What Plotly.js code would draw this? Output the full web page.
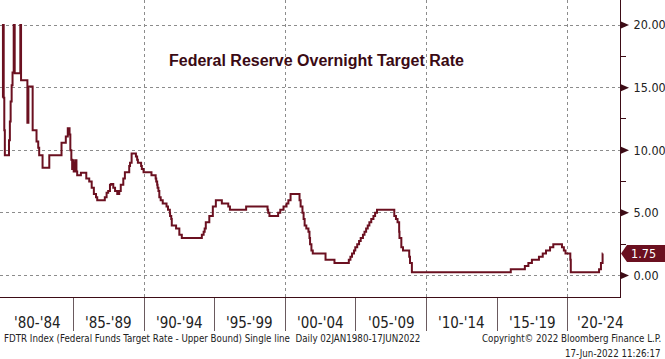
<!DOCTYPE html>
<html>
<head>
<meta charset="utf-8">
<script src="https://cdn.plot.ly/plotly-3.0.1.min.js"></script>
<style>
html,body{margin:0;padding:0;background:#fff;}
#chart{width:665px;height:359px;}
</style>
</head>
<body>
<div id="chart"></div>
<script>
// Federal Funds Target Rate (upper bound), step changes
var rateDates = [
'1980-01-02','1980-01-08','1980-01-28','1980-02-12','1980-02-26',
'1980-06-12','1980-07-05','1980-07-25','1980-08-20','1980-09-12',
'1980-10-12','1980-11-07',
'1981-04-01','1981-04-20',
'1981-10-01','1981-10-27',
'1982-02-14','1982-05-25','1982-07-08','1982-08-02','1982-10-28',
'1983-04-20','1984-03-01','1984-06-20','1984-08-10','1984-09-25','1984-10-15',
'1984-11-10','1984-12-01','1984-12-20','1985-01-10','1985-01-28','1985-02-15','1985-03-05','1985-03-22',
'1985-04-10','1985-07-15','1985-12-01','1986-02-15','1986-04-20','1986-06-15','1986-08-10','1986-09-10',
'1987-03-25','1987-05-10','1987-06-20','1987-08-05','1987-09-04','1987-10-30','1987-12-15',
'1988-02-10','1988-04-01','1988-05-10','1988-07-15','1988-08-25','1988-12-15',
'1989-01-05','1989-02-15','1989-06-06','1989-07-07','1989-07-27','1989-10-18','1989-11-06','1989-12-20',
'1990-07-13','1990-10-29','1990-11-13','1990-12-07','1990-12-18',
'1991-01-09','1991-02-01','1991-03-08','1991-04-30','1991-08-06','1991-09-13','1991-10-31','1991-11-06','1991-12-06','1991-12-20',
'1992-04-09','1992-07-02','1992-09-04',
'1994-02-04','1994-03-22','1994-04-18','1994-05-17','1994-08-16','1994-11-15',
'1995-02-01','1995-07-06','1995-12-19','1996-01-31','1997-03-25',
'1998-09-29','1998-10-15','1998-11-17','1999-06-30','1999-08-24','1999-11-16',
'2000-02-02','2000-03-21','2000-05-16',
'2001-01-03','2001-01-31','2001-03-20','2001-04-18','2001-05-15','2001-06-27','2001-08-21','2001-09-17','2001-10-02','2001-11-06','2001-12-11',
'2002-11-06','2003-06-25',
'2004-06-30','2004-08-10','2004-09-21','2004-11-10','2004-12-14',
'2005-02-02','2005-03-22','2005-05-03','2005-06-30','2005-08-09','2005-09-20','2005-11-01','2005-12-13',
'2006-01-31','2006-03-28','2006-05-10','2006-06-29',
'2007-09-18','2007-10-31','2007-12-11',
'2008-01-22','2008-01-30','2008-03-18','2008-04-30','2008-10-08','2008-10-29','2008-12-16',
'2015-12-16','2016-12-14','2017-03-15','2017-06-14','2017-12-13',
'2018-03-21','2018-06-13','2018-09-26','2018-12-19',
'2019-07-31','2019-09-18','2019-10-30',
'2020-03-03','2020-03-15',
'2022-03-16','2022-05-04','2022-06-15','2022-06-17'
];
var rateValues = [
14.2,20.0,14.2,11.6,9.6,
10.8,12.3,13.9,15.2,16.2,
20.0,16.15,
20.0,15.6,
12.2,15.1,
11.6,10.7,10.2,9.6,8.6,
9.6,10.6,11.1,11.75,11.25,10.0,
9.25,8.5,9.2,8.3,9.0,8.3,9.2,8.3,
8.0,8.2,7.75,7.5,7.0,6.5,6.25,6.0,
6.25,6.6,6.75,7.25,7.3,7.0,6.75,
6.5,6.75,7.25,7.75,8.25,8.75,
9.0,9.75,9.5,9.25,9.0,8.75,8.5,8.25,
8.0,7.75,7.5,7.25,7.0,
6.75,6.25,6.0,5.75,5.5,5.25,5.0,4.75,4.5,4.0,
3.75,3.25,3.0,
3.25,3.5,3.75,4.25,4.75,5.5,
6.0,5.75,5.5,5.25,5.5,
5.25,5.0,4.75,5.0,5.25,5.5,
5.75,6.0,6.5,
6.0,5.5,5.0,4.5,4.0,3.75,3.5,3.0,2.5,2.0,1.75,
1.25,1.0,
1.25,1.5,1.75,2.0,2.25,
2.5,2.75,3.0,3.25,3.5,3.75,4.0,4.25,
4.5,4.75,5.0,5.25,
4.75,4.5,4.25,
3.5,3.0,2.25,2.0,1.5,1.0,0.25,
0.5,0.75,1.0,1.25,1.5,
1.75,2.0,2.25,2.5,
2.25,2.0,1.75,
1.25,0.25,
0.5,1.0,1.75,1.75
];
var xRange = ['1979-10-24','2023-09-08'];
var gridDates = ['1990-01-01','2000-01-01','2010-01-01','2020-01-01'];
var sepDates = ['1985-01-01','1995-01-01','2005-01-01','2015-01-01'];
var periodMid = ['1982-07-02','1987-07-02','1992-07-02','1997-07-02','2002-07-02','2007-07-02','2012-07-02','2017-07-02','2022-04-15'];
var periodLabels = ["'80-'84","'85-'89","'90-'94","'95-'99","'00-'04","'05-'09","'10-'14","'15-'19","'20-'24"];
var yTicks = [0,5,10,15,20];
var yTickText = ['0.00','5.00','10.00','15.00','20.00'];
var yMinor = [2.5,7.5,12.5,17.5];
var chartTitle = 'Federal Reserve Overnight Target Rate';
var footLeft = 'FDTR Index (Federal Funds Target Rate - Upper Bound) Single line  Daily 02JAN1980-17JUN2022';
var footRight1 = 'Copyright\u00a9 2022 Bloomberg Finance L.P.';
var footRight2 = '17-Jun-2022 11:26:17';

var lineColor = '#6b1020';
var axisColor = '#3d0c16';
var narrow = '"DejaVu Sans Condensed", "DejaVu Sans", sans-serif';
var lastVal = rateValues[rateValues.length - 1];

var annotations = [];
annotations.push({text:'<b>'+chartTitle+'</b>', xref:'paper', yref:'paper', x:0.5105, y:0.7956,
  xanchor:'center', yanchor:'middle', showarrow:false,
  font:{family:'"Liberation Sans", Arial, sans-serif', size:16, color:'#3a0a14'}});
periodMid.forEach(function(d,i){
  annotations.push({text:periodLabels[i], xref:'x', yref:'paper', x:d, y:-0.088,
    xanchor:'center', yanchor:'middle', showarrow:false,
    font:{family:narrow, size:15, color:'#222'}});
});
annotations.push({text:footLeft, xref:'paper', yref:'paper', x:0, xshift:2, y:-0.1414,
  xanchor:'left', yanchor:'middle', showarrow:false, font:{family:narrow, size:9.7, color:'#222'}});
annotations.push({text:footRight1, xref:'paper', yref:'paper', x:1.0694, y:-0.1414,
  xanchor:'right', yanchor:'middle', showarrow:false, font:{family:narrow, size:9.7, color:'#222'}});
annotations.push({text:footRight2, xref:'paper', yref:'paper', x:1.0694, y:-0.1886,
  xanchor:'right', yanchor:'middle', showarrow:false, font:{family:narrow, size:9.7, color:'#222'}});
annotations.push({text:String(lastVal.toFixed(2)), xref:'paper', yref:'y', x:1, xshift:9, y:lastVal,
  xanchor:'left', yanchor:'middle', showarrow:false, font:{family:narrow, size:12.5, color:'#ffffff'}});

var shapes = [];
yTicks.forEach(function(v){
  shapes.push({type:'path', xref:'paper', yref:'y', xsizemode:'pixel', ysizemode:'pixel',
    xanchor:1, yanchor:v, path:'M1,-3.5 L9,0 L1,3.5 Z', fillcolor:axisColor, line:{width:0}});
});
shapes.push({type:'path', xref:'paper', yref:'y', xsizemode:'pixel', ysizemode:'pixel',
  xanchor:1, yanchor:lastVal, path:'M1,0 L7,-8.5 L46,-8.5 L46,8.5 L7,8.5 Z', fillcolor:lineColor, line:{width:0}});

var trace = {x:rateDates, y:rateValues, type:'scatter', mode:'lines',
  line:{color:lineColor, width:2, shape:'hv'}, hoverinfo:'skip', showlegend:false};

var layout = {
  width:665, height:359,
  margin:{l:0, r:45, t:0, b:62, pad:0},
  paper_bgcolor:'#ffffff', plot_bgcolor:'#ffffff',
  showlegend:false,
  xaxis:{type:'date', range:xRange, tickmode:'array', tickvals:gridDates, showticklabels:false,
    showgrid:true, gridcolor:'#8c8c8c', griddash:'dot', gridwidth:1,
    ticks:'outside', ticklen:33, tickwidth:1, tickcolor:'#6a5a5e',
    minor:{tickmode:'array', tickvals:sepDates, ticks:'outside', ticklen:33, tickwidth:1, tickcolor:'#6a5a5e', showgrid:false},
    showline:true, linecolor:axisColor, linewidth:1, zeroline:false, fixedrange:true},
  yaxis:{side:'right', range:[-1.72, 22.0], tickmode:'array', tickvals:yTicks, ticktext:yTickText,
    showgrid:true, gridcolor:'#8c8c8c', griddash:'dot', gridwidth:1,
    ticks:'', ticklabelstandoff:10,
    minor:{tickmode:'array', tickvals:yMinor, ticks:'outside', ticklen:5, tickwidth:1, tickcolor:axisColor, showgrid:false},
    tickfont:{family:narrow, size:12.5, color:'#222'},
    showline:true, linecolor:axisColor, linewidth:1, zeroline:false, fixedrange:true},
  annotations:annotations,
  shapes:shapes
};
Plotly.newPlot('chart', [trace], layout, {displayModeBar:false, staticPlot:true});
</script>
</body>
</html>
